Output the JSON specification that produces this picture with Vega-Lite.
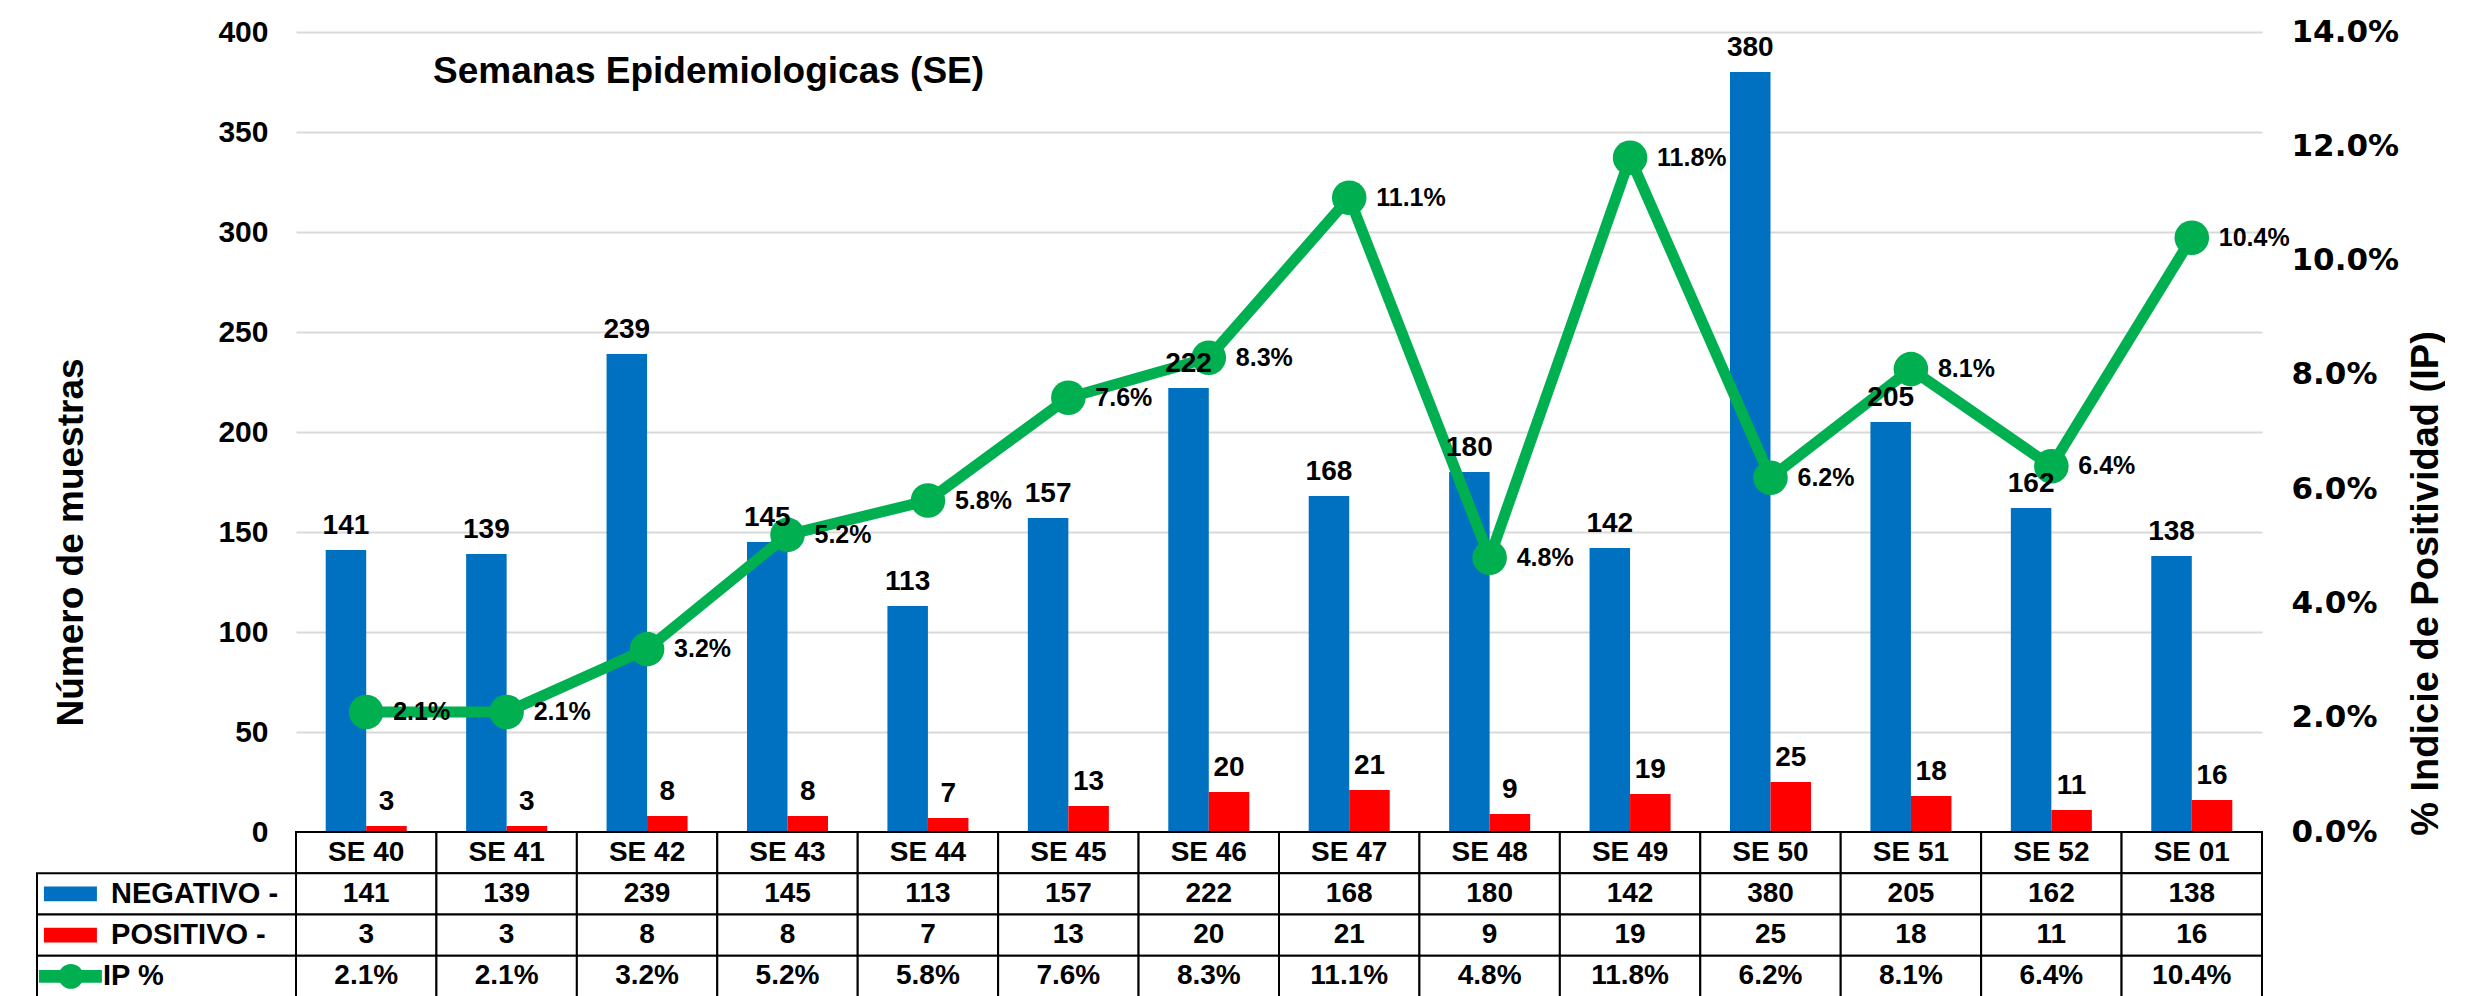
{
  "$schema": "https://vega.github.io/schema/vega-lite/v6.json",
  "background": "white",
  "padding": {"left": 36, "top": 16, "right": 0, "bottom": 0},
  "autosize": {"type": "pad"},
  "config": {
    "view": {"stroke": null},
    "font": "Liberation Sans",
    "text": {"font": "Liberation Sans", "fontWeight": "bold", "color": "black"}
  },
  "datasets": {
    "weeks": [
      {"week": "SE 40", "neg": 141, "pos": 3, "ip": 0.021},
      {"week": "SE 41", "neg": 139, "pos": 3, "ip": 0.021},
      {"week": "SE 42", "neg": 239, "pos": 8, "ip": 0.032},
      {"week": "SE 43", "neg": 145, "pos": 8, "ip": 0.052},
      {"week": "SE 44", "neg": 113, "pos": 7, "ip": 0.058},
      {"week": "SE 45", "neg": 157, "pos": 13, "ip": 0.076},
      {"week": "SE 46", "neg": 222, "pos": 20, "ip": 0.083},
      {"week": "SE 47", "neg": 168, "pos": 21, "ip": 0.111},
      {"week": "SE 48", "neg": 180, "pos": 9, "ip": 0.048},
      {"week": "SE 49", "neg": 142, "pos": 19, "ip": 0.118},
      {"week": "SE 50", "neg": 380, "pos": 25, "ip": 0.062},
      {"week": "SE 51", "neg": 205, "pos": 18, "ip": 0.081},
      {"week": "SE 52", "neg": 162, "pos": 11, "ip": 0.064},
      {"week": "SE 01", "neg": 138, "pos": 16, "ip": 0.104}
    ],
    "rows": [
      {"row": "NEGATIVO -"},
      {"row": "POSITIVO -"},
      {"row": "IP %"}
    ]
  },
  "columns": 2,
  "spacing": 0,
  "bounds": "flush",
  "concat": [
    {
      "width": 259,
      "height": 800,
      "data": {"values": [{}]},
      "mark": {"type": "text", "text": ""},
      "encoding": {}
    },
    {
      "width": 1966,
      "height": 800,
      "data": {"name": "weeks"},
      "title": {
        "text": "Semanas Epidemiologicas (SE)",
        "anchor": "start",
        "frame": "group",
        "offset": 0,
        "dx": 137,
        "dy": 104,
        "baseline": "alphabetic",
        "fontSize": 37,
        "fontWeight": "bold",
        "color": "black"
      },
      "layer": [
        {
          "transform": [{"fold": ["neg", "pos"], "as": ["key", "value"]}],
          "mark": {"type": "bar"},
          "encoding": {
            "x": {"field": "week", "type": "nominal", "sort": null, "scale": {"paddingInner": 0.423, "paddingOuter": 0.2115}, "axis": null},
            "xOffset": {"field": "key", "type": "nominal", "scale": {"domain": ["neg", "pos"], "paddingInner": 0, "paddingOuter": 0}},
            "y": {
              "field": "value", "type": "quantitative",
              "scale": {"domain": [0, 400], "nice": false},
              "axis": {
                "orient": "left",
                "values": [0, 50, 100, 150, 200, 250, 300, 350, 400],
                "grid": true, "gridColor": "#d9d9d9", "gridWidth": 2,
                "domain": false, "ticks": false, "tickSize": 0,
                "labelFontSize": 30, "labelFontWeight": "bold", "labelColor": "black", "labelPadding": 28,
                "title": "Número de muestras",
                "titleFontSize": 37, "titleFontWeight": "bold", "titleColor": "black",
                "titleAngle": -90, "titleX": -214, "titleY": 510,
                "titleBaseline": "alphabetic", "titleAlign": "center"
              }
            },
            "color": {"field": "key", "type": "nominal", "scale": {"domain": ["neg", "pos"], "range": ["#0070C0", "#FF0000"]}, "legend": null}
          }
        },
        {
          "mark": {"type": "line", "color": "#00B050", "strokeWidth": 11,
                   "point": {"filled": true, "size": 1195, "color": "#00B050", "opacity": 1}},
          "encoding": {
            "x": {"field": "week", "type": "nominal", "sort": null, "axis": null},
            "y": {
              "field": "ip", "type": "quantitative",
              "scale": {"domain": [0, 0.14], "nice": false},
              "axis": {
                "orient": "right",
                "values": [0, 0.02, 0.04, 0.06, 0.08, 0.1, 0.12, 0.14],
                "format": ".1%",
                "grid": false, "domain": false, "ticks": false, "tickSize": 0,
                "labelFont": "DejaVu Sans", "labelFontSize": 31, "labelFontWeight": "bold", "labelColor": "black", "labelPadding": 29,
                "title": "% Indicie de Positividad (IP)",
                "titleFontSize": 38, "titleFontWeight": "bold", "titleColor": "black",
                "titleAngle": -90, "titleX": 175, "titleY": 551,
                "titleBaseline": "alphabetic", "titleAlign": "center"
              }
            }
          }
        },
        {
          "transform": [{"fold": ["neg", "pos"], "as": ["key", "value"]}],
          "mark": {"type": "text", "baseline": "alphabetic", "dy": -16, "fontSize": 28, "fontWeight": "bold"},
          "encoding": {
            "x": {"field": "week", "type": "nominal", "sort": null, "axis": null},
            "xOffset": {"field": "key", "type": "nominal", "scale": {"domain": ["neg", "pos"], "paddingInner": 0, "paddingOuter": 0}},
            "y": {"field": "value", "type": "quantitative", "scale": {"domain": [0, 400], "nice": false}, "axis": null},
            "text": {"field": "value", "type": "quantitative"}
          }
        },
        {
          "mark": {"type": "text", "align": "left", "baseline": "middle", "dx": 27, "fontSize": 25, "fontWeight": "bold"},
          "encoding": {
            "x": {"field": "week", "type": "nominal", "sort": null, "axis": null},
            "y": {"field": "ip", "type": "quantitative", "scale": {"domain": [0, 0.14], "nice": false}, "axis": null},
            "text": {"field": "ip", "type": "quantitative", "format": ".1%"}
          }
        }
      ],
      "resolve": {"scale": {"y": "independent"}}
    },
    {
      "width": 259,
      "height": 165,
      "data": {"name": "rows"},
      "encoding": {
        "y": {"field": "row", "type": "nominal", "sort": null,
              "scale": {"domain": ["SE", "NEGATIVO -", "POSITIVO -", "IP %"], "paddingInner": 0, "paddingOuter": 0},
              "axis": null}
      },
      "layer": [
        {
          "mark": {"type": "rect", "fill": "white", "stroke": "black", "strokeWidth": 2},
          "encoding": {
            "x": {"datum": 0, "type": "quantitative", "scale": {"domain": [0, 100], "nice": false, "zero": false}, "axis": null},
            "x2": {"datum": 100}
          }
        },
        {
          "transform": [{"filter": "datum.row !== 'IP %'"}],
          "mark": {"type": "text", "align": "left", "baseline": "middle", "fontSize": 29, "fontWeight": "bold"},
          "encoding": {"x": {"datum": 28.6, "type": "quantitative"}, "text": {"field": "row"}}
        },
        {
          "transform": [{"filter": "datum.row === 'IP %'"}],
          "mark": {"type": "text", "align": "left", "baseline": "middle", "fontSize": 29, "fontWeight": "bold"},
          "encoding": {"x": {"datum": 25.5, "type": "quantitative"}, "text": {"field": "row"}}
        },
        {
          "transform": [{"filter": "datum.row === 'NEGATIVO -'"}],
          "mark": {"type": "point", "shape": "M-1,-0.283L1,-0.283L1,0.283L-1,0.283Z", "filled": true, "opacity": 1, "size": 2809, "color": "#0070C0"},
          "encoding": {"x": {"datum": 12.9, "type": "quantitative"}}
        },
        {
          "transform": [{"filter": "datum.row === 'POSITIVO -'"}],
          "mark": {"type": "point", "shape": "M-1,-0.283L1,-0.283L1,0.283L-1,0.283Z", "filled": true, "opacity": 1, "size": 2809, "color": "#FF0000"},
          "encoding": {"x": {"datum": 12.9, "type": "quantitative"}}
        },
        {
          "transform": [{"filter": "datum.row === 'IP %'"}],
          "mark": {"type": "point", "shape": "M-1,-0.206L1,-0.206L1,0.206L-1,0.206Z", "filled": true, "opacity": 1, "size": 3969, "color": "#00B050"},
          "encoding": {"x": {"datum": 12.9, "type": "quantitative"}}
        },
        {
          "transform": [{"filter": "datum.row === 'IP %'"}],
          "mark": {"type": "point", "shape": "circle", "filled": true, "opacity": 1, "size": 616, "color": "#00B050"},
          "encoding": {"x": {"datum": 13.1, "type": "quantitative"}}
        }
      ]
    },
    {
      "width": 1966,
      "height": 165,
      "data": {"name": "weeks"},
      "encoding": {
        "x": {"field": "week", "type": "nominal", "sort": null, "scale": {"paddingInner": 0, "paddingOuter": 0}, "axis": null}
      },
      "layer": [
        {
          "mark": {"type": "rect", "fill": "white", "stroke": "black", "strokeWidth": 2},
          "encoding": {"y": {"datum": "SE", "type": "nominal",
                             "scale": {"domain": ["SE", "NEGATIVO -", "POSITIVO -", "IP %"], "paddingInner": 0, "paddingOuter": 0},
                             "axis": null}}
        },
        {
          "mark": {"type": "rect", "fill": "white", "stroke": "black", "strokeWidth": 2},
          "encoding": {"y": {"datum": "NEGATIVO -", "type": "nominal"}}
        },
        {
          "mark": {"type": "rect", "fill": "white", "stroke": "black", "strokeWidth": 2},
          "encoding": {"y": {"datum": "POSITIVO -", "type": "nominal"}}
        },
        {
          "mark": {"type": "rect", "fill": "white", "stroke": "black", "strokeWidth": 2},
          "encoding": {"y": {"datum": "IP %", "type": "nominal"}}
        },
        {
          "mark": {"type": "text", "baseline": "middle", "fontSize": 28, "fontWeight": "bold"},
          "encoding": {"y": {"datum": "SE", "type": "nominal"}, "text": {"field": "week"}}
        },
        {
          "mark": {"type": "text", "baseline": "middle", "fontSize": 28, "fontWeight": "bold"},
          "encoding": {"y": {"datum": "NEGATIVO -", "type": "nominal"}, "text": {"field": "neg", "type": "quantitative"}}
        },
        {
          "mark": {"type": "text", "baseline": "middle", "fontSize": 28, "fontWeight": "bold"},
          "encoding": {"y": {"datum": "POSITIVO -", "type": "nominal"}, "text": {"field": "pos", "type": "quantitative"}}
        },
        {
          "mark": {"type": "text", "baseline": "middle", "fontSize": 28, "fontWeight": "bold"},
          "encoding": {"y": {"datum": "IP %", "type": "nominal"}, "text": {"field": "ip", "type": "quantitative", "format": ".1%"}}
        }
      ]
    }
  ]
}
